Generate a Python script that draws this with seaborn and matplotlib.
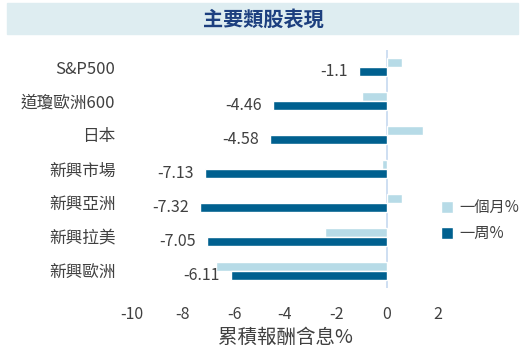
import matplotlib
matplotlib.use("Agg")
import matplotlib.pyplot as plt
import matplotlib.patches as mpatches
import seaborn as sns
import pandas as pd

# datos
categorias = ['S&P500', '道瓊歐洲600', '日本', '新興市場', '新興亞洲', '新興拉美', '新興歐洲']
un_mes = [0.6, -1.0, 1.4, -0.2, 0.6, -2.45, -6.7]
una_semana = [-1.1, -4.46, -4.58, -7.13, -7.32, -7.05, -6.11]
series = ['一個月%', '一周%']
ticks_x = [-10, -8, -6, -4, -2, 0, 2]

df = pd.DataFrame({
    'cat': categorias * 2,
    'valor': un_mes + una_semana,
    'serie': [series[0]] * len(categorias) + [series[1]] * len(categorias),
})

sns.set_theme(style='white')
plt.rcParams['font.family'] = ['Noto Sans CJK TC', 'DejaVu Sans']
plt.rcParams['axes.unicode_minus'] = False

gris = '#404040'
fig = plt.figure(figsize=(5.3, 3.53), dpi=100)
ax = fig.add_axes([132 / 530, 1 - 288 / 353, (438 - 132) / 530, 238 / 353])

sns.barplot(data=df, x='valor', y='cat', hue='serie', hue_order=series,
            palette=['#b7dbe7', '#00608f'], orient='h', width=0.54,
            saturation=1, ax=ax, legend=True)

# etiquetas solo para la serie semanal
ax.bar_label(ax.containers[1], labels=[f'{v:g}' for v in una_semana],
             padding=8, fontsize=11.5, color=gris)

ax.set_xlim(-10, 2)
ax.set_ylim(6.5, -0.5)
ax.set_xticks(ticks_x)
ax.axvline(0, color='#c6d9f0', lw=1.2, zorder=0)
for s in ax.spines.values():
    s.set_visible(False)
ax.tick_params(axis='y', length=0, pad=12, labelsize=12, labelcolor=gris)
ax.tick_params(axis='x', length=0, pad=13, labelsize=11.5, labelcolor=gris)
ax.set_ylabel('')
ax.set_xlabel('累積報酬含息%', fontsize=14, color=gris, labelpad=3)

ax.legend(loc='upper left', bbox_to_anchor=(441 / 530, 1 - 199 / 353),
          bbox_transform=fig.transFigure, frameon=False, fontsize=11,
          borderpad=0, borderaxespad=0,
          handlelength=0.8, handleheight=0.8, handletextpad=0.4,
          labelspacing=0.6, labelcolor=gris)

# banda del titulo
fig.patches.append(mpatches.Rectangle((7 / 530, 1 - 34 / 353), 511 / 530, 31 / 353,
                                      transform=fig.transFigure, color='#deedf1', zorder=0))
fig.text(263 / 530, 1 - 19 / 353, '主要類股表現', ha='center', va='center',
         fontsize=14.5, fontweight='bold', color='#1c3f7f')

plt.savefig('out.png', dpi=100)
plt.close()
